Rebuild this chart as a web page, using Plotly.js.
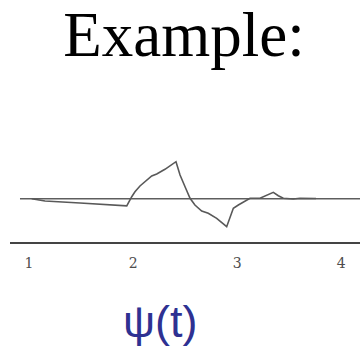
<!DOCTYPE html>
<html>
<head>
<meta charset="utf-8">
<script src="https://cdn.plot.ly/plotly-3.0.1.min.js"></script>
<style>
  html, body { margin: 0; padding: 0; background: #ffffff; }
  #chart { width: 360px; height: 346px; }
</style>
</head>
<body>
<div id="chart"></div>
<script>
// Wavelet psi(t): sampled time values and amplitudes
const timeValues = [1.026, 1.154, 1.490, 1.939, 1.987, 2.018, 2.066, 2.114, 2.179, 2.227,
                    2.306, 2.412, 2.451, 2.499, 2.547, 2.594, 2.659, 2.722, 2.803, 2.899,
                    2.931, 2.963, 3.011, 3.059, 3.123, 3.219, 3.283, 3.347, 3.395, 3.443,
                    3.539, 3.603, 3.757];
const psiValues  = [0.000, -0.058, -0.108, -0.180, 0.050, 0.175, 0.318, 0.425, 0.568, 0.618,
                    0.735, 0.925, 0.593, 0.300, 0.010, -0.158, -0.308, -0.365, -0.490, -0.700,
                    -0.450, -0.240, -0.158, -0.090, 0.010, 0.010, 0.075, 0.160, 0.075, 0.010,
                    -0.008, 0.010, 0.005];

// Horizontal reference line at psi = 0
const baselineT = [0.9135, 4.18];
const baselineV = [0, 0];

// Axis ticks
const tickValues = [1, 2, 3, 4];
const tickLabels = ['1', '2', '3', '4'];

const traces = [
  {
    x: baselineT, y: baselineV, mode: 'lines',
    line: { color: '#5e5e5e', width: 1.4 },
    hoverinfo: 'skip', showlegend: false
  },
  {
    x: timeValues, y: psiValues, mode: 'lines',
    line: { color: '#595959', width: 1.6 },
    showlegend: false
  }
];

const layout = {
  width: 360,
  height: 346,
  margin: { l: 10, r: 0, t: 100, b: 104 },
  paper_bgcolor: '#ffffff',
  plot_bgcolor: '#ffffff',
  showlegend: false,
  title: {
    text: 'Example:',
    font: { family: 'Liberation Serif, Times New Roman, serif', size: 63, color: '#000000' },
    x: 0.511, xanchor: 'center',
    y: 0.902, yanchor: 'middle', yref: 'container'
  },
  xaxis: {
    range: [0.8175, 4.1797],
    showgrid: false,
    zeroline: false,
    showline: true,
    linecolor: '#444444',
    linewidth: 1.5,
    ticks: '',
    tickvals: tickValues,
    ticktext: tickLabels,
    ticklabelstandoff: 8,
    tickfont: { family: 'DejaVu Serif, serif', size: 14, color: '#4d4d4d' },
    fixedrange: true
  },
  yaxis: {
    range: [-1.0825, 2.4675],
    visible: false,
    showgrid: false,
    zeroline: false,
    fixedrange: true
  },
  annotations: [
    {
      text: 'ψ(t)',
      xref: 'paper', yref: 'paper',
      x: (160 - 10) / 350, y: -0.56,
      xanchor: 'center', yanchor: 'middle',
      showarrow: false,
      font: { family: 'Liberation Sans, Arial, sans-serif', size: 45, color: '#2e3192' }
    }
  ]
};

Plotly.newPlot('chart', traces, layout, { displayModeBar: false, staticPlot: true });
</script>
</body>
</html>
